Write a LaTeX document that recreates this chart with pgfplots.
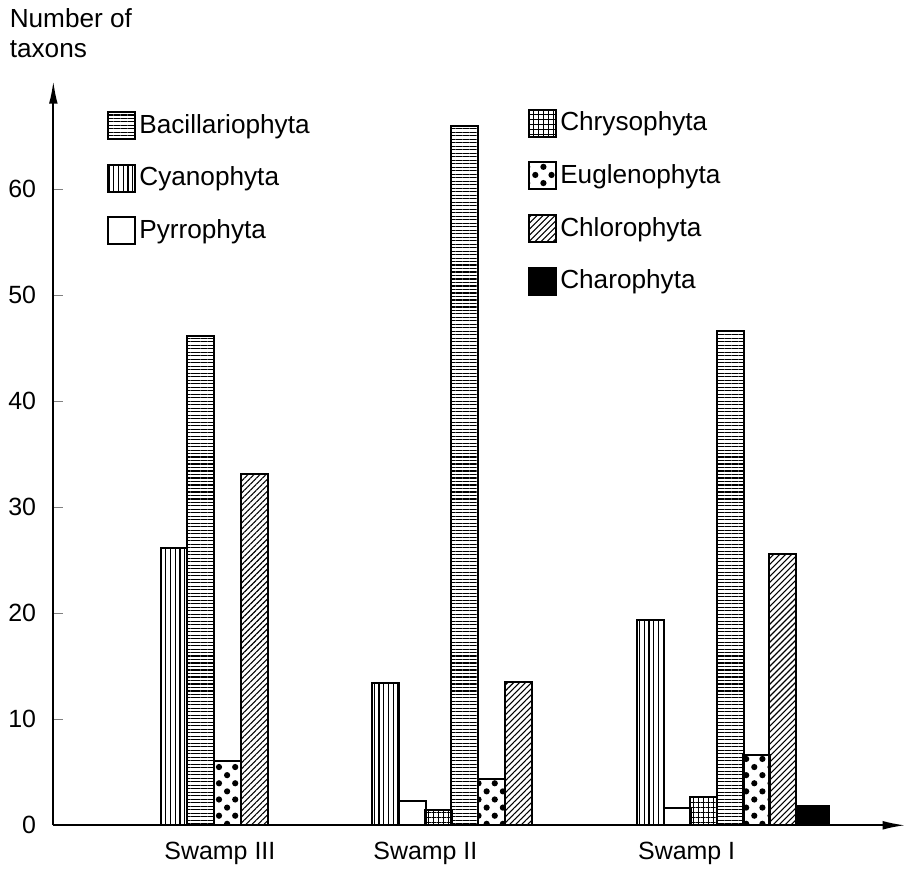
\documentclass[border=0pt]{standalone}
\usepackage{fontspec}
\setmainfont{Liberation Sans}
\usepackage{pgfplots}
\pgfplotsset{compat=1.18}
\usetikzlibrary{patterns.meta,arrows.meta}

% one x unit = one pixel of the reference (0.4pt)
\pgfplotsset{
  base/.style={
    width=341.6pt, height=298.4pt, scale only axis,
    xmin=0, xmax=854, ymin=0, ymax=70.2, clip=false,
    every axis plot/.append style={ybar, bar width=27, bar shift=0pt, draw=black, line width=0.8pt},
    legend image code/.code={\draw[#1,line width=0.8pt] (0pt,-5.4pt) rectangle (10.8pt,5.4pt);},
    legend style={draw=none, fill=none, inner sep=0pt, row sep=9pt,
      nodes={inner sep=1.5pt}, font=\fontsize{10.5}{12}\selectfont},
    legend cell align=left,
  },
  hl/.style={pattern={Lines[angle=0,distance=1.4pt,line width=0.45pt]}},
  vl/.style={pattern={Lines[angle=90,distance=1.9pt,line width=0.5pt]}},
  dl/.style={pattern={Lines[angle=45,distance=1.7pt,line width=0.45pt]}},
  gr/.style={pattern={Hatch[angle=0,distance=2pt,line width=0.45pt]}},
  dt/.style={pattern={Dots[angle=45,distance=4.6pt,radius=1.25pt]}},
}

\begin{document}
\begin{tikzpicture}
\begin{axis}[base,
  axis lines=left,
  axis line style={line width=0.7pt, -{Latex[length=9pt,width=3.5pt]}},
  ytick={0,10,...,60},
  tick align=inside, major tick length=4pt,
  ytick style={line width=0.6pt},
  xtick={167,373,635},
  xticklabels={Swamp III, Swamp II, Swamp I},
  xtick style={draw=none},
  xticklabel style={yshift=-3pt},
  yticklabel style={xshift=-3.4pt},
  /pgf/number format/assume math mode=true,
  ticklabel style={font=\fontsize{10}{12}\selectfont},
  ylabel={Number of\\taxons},
  ylabel style={rotate=-90, align=left, at={(axis description cs:0,1)},
    anchor=south west, xshift=-21pt, yshift=6pt, font=\fontsize{10.5}{12}\selectfont},
  legend style={at={(axis cs:53,67.5)}, anchor=north west},
]
\addplot[hl] coordinates {(148,46.2) (412,66) (679,46.6)};
\addlegendentry{Bacillariophyta}
\addplot[vl] coordinates {(121,26.2) (333,13.4) (599,19.4)};
\addlegendentry{Cyanophyta}
\addplot[fill=white] coordinates {(360,2.3) (626,1.65)};
\addlegendentry{Pyrrophyta}
\end{axis}

\begin{axis}[base, hide axis,
  legend style={at={(axis cs:475,67.7)}, anchor=north west},
]
\addplot[gr] coordinates {(386,1.4) (651.5,2.7)};
\addlegendentry{Chrysophyta}
\addplot[dt] coordinates {(175,6.1) (439,4.4) (705,6.6)};
\addlegendentry{Euglenophyta}
\addplot[dl] coordinates {(202,33.1) (466,13.5) (731,25.6)};
\addlegendentry{Chlorophyta}
\addplot[fill=black, bar width=31] coordinates {(762,1.8)};
\addlegendentry{Charophyta}
\end{axis}
\end{tikzpicture}
\end{document}
